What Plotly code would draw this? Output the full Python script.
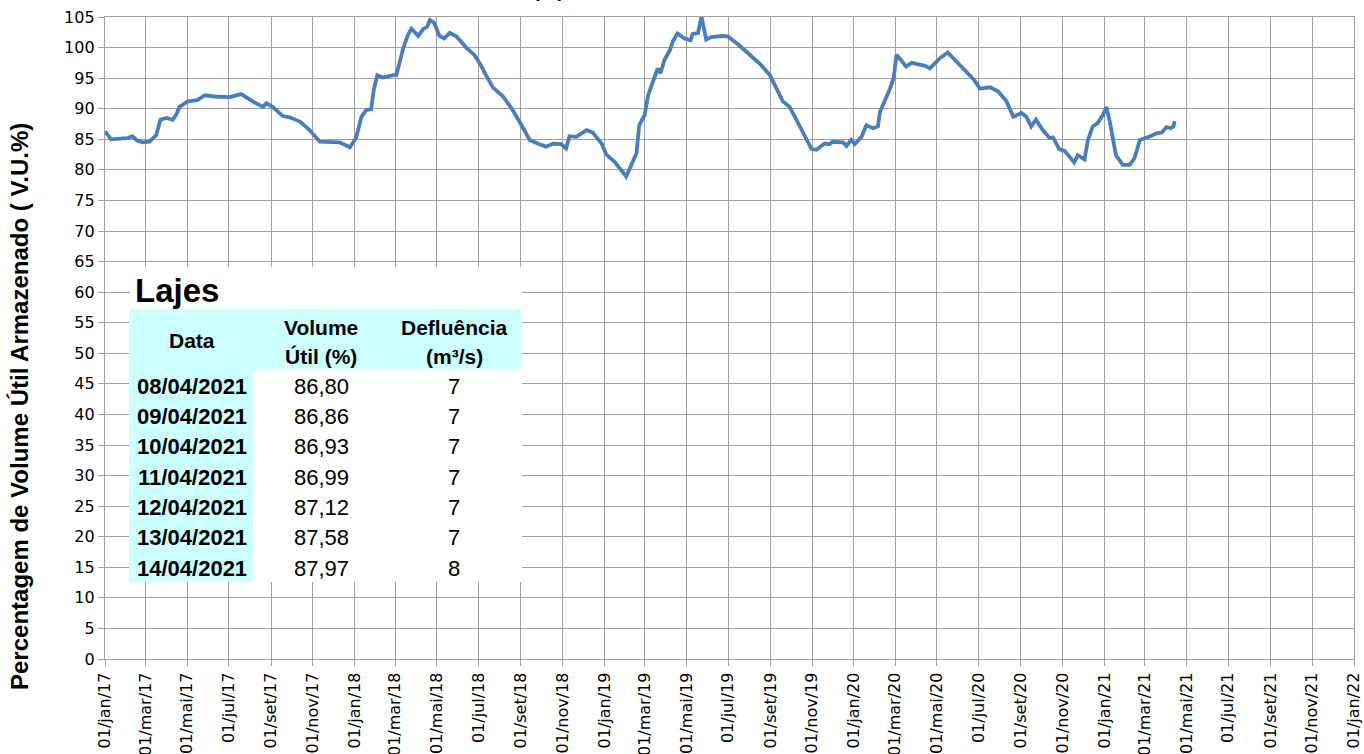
import plotly.graph_objects as go

# ---------------- data ----------------
dates = [
    "2017-01-01", "2017-01-10", "2017-01-23", "2017-02-03", "2017-02-10", "2017-02-17", "2017-02-25",
    "2017-03-07", "2017-03-17", "2017-03-23", "2017-04-01", "2017-04-10", "2017-04-15", "2017-04-20",
    "2017-05-02", "2017-05-16", "2017-05-27", "2017-06-10", "2017-07-02", "2017-07-19", "2017-08-05",
    "2017-08-20", "2017-08-25", "2017-09-03", "2017-09-18", "2017-09-28", "2017-10-13", "2017-10-27",
    "2017-11-11", "2017-11-25", "2017-12-10", "2017-12-25",
    "2018-01-03", "2018-01-11", "2018-01-18", "2018-01-25", "2018-01-29", "2018-02-03", "2018-02-11",
    "2018-02-26", "2018-03-03", "2018-03-08", "2018-03-13", "2018-03-20", "2018-03-25", "2018-04-04",
    "2018-04-11", "2018-04-17", "2018-04-21", "2018-04-27", "2018-05-05", "2018-05-12", "2018-05-20",
    "2018-05-30", "2018-06-13", "2018-06-25", "2018-07-03", "2018-07-12", "2018-07-22", "2018-08-06",
    "2018-08-20", "2018-09-02", "2018-09-14", "2018-09-28", "2018-10-08", "2018-10-18", "2018-10-30",
    "2018-11-06", "2018-11-11", "2018-11-21", "2018-12-06", "2018-12-15", "2018-12-28",
    "2019-01-04", "2019-01-16", "2019-02-02", "2019-02-09", "2019-02-17", "2019-02-21", "2019-03-01",
    "2019-03-06", "2019-03-13", "2019-03-20", "2019-03-24", "2019-03-30", "2019-04-07", "2019-04-11",
    "2019-04-18", "2019-04-28", "2019-05-07", "2019-05-10", "2019-05-18", "2019-05-23", "2019-05-30",
    "2019-06-06", "2019-06-23", "2019-07-01", "2019-07-18", "2019-08-01", "2019-08-16", "2019-08-31",
    "2019-09-09", "2019-09-19", "2019-09-29", "2019-10-09", "2019-10-23", "2019-10-31", "2019-11-07",
    "2019-11-19", "2019-11-26", "2019-12-01", "2019-12-16", "2019-12-21", "2019-12-28",
    "2020-01-02", "2020-01-12", "2020-01-19", "2020-01-29", "2020-02-05", "2020-02-08", "2020-02-15",
    "2020-02-22", "2020-02-28", "2020-03-03", "2020-03-08", "2020-03-17", "2020-03-25", "2020-04-04",
    "2020-04-14", "2020-04-21", "2020-04-28", "2020-05-05", "2020-05-17", "2020-05-30", "2020-06-14",
    "2020-06-24", "2020-07-03", "2020-07-18", "2020-07-30", "2020-08-11", "2020-08-21", "2020-09-02",
    "2020-09-09", "2020-09-16", "2020-09-23", "2020-10-03", "2020-10-13", "2020-10-18", "2020-10-27",
    "2020-11-04", "2020-11-18", "2020-11-23", "2020-12-03", "2020-12-08", "2020-12-15", "2020-12-22",
    "2020-12-30",
    "2021-01-04", "2021-01-09", "2021-01-13", "2021-01-18", "2021-01-28", "2021-02-07", "2021-02-14",
    "2021-02-22", "2021-03-09", "2021-03-19", "2021-03-26", "2021-04-02",
    "2021-04-08", "2021-04-09", "2021-04-10", "2021-04-11", "2021-04-12", "2021-04-13", "2021-04-14",
]
volume = [
    86.3, 85.0, 85.1, 85.2, 85.5, 84.8, 84.5,
    84.6, 85.7, 88.2, 88.5, 88.2, 89.0, 90.3,
    91.2, 91.4, 92.2, 92.0, 91.9, 92.4, 91.2,
    90.3, 90.9, 90.3, 88.8, 88.6, 87.9, 86.5,
    84.6, 84.5, 84.5, 83.7,
    85.2, 88.7, 89.8, 89.9, 93.1, 95.5, 95.1,
    95.5, 95.5, 97.7, 99.9, 102.1, 103.1, 101.9,
    103.0, 103.4, 104.5, 104.1, 101.9, 101.5, 102.4,
    101.8, 100.0, 98.8, 97.4, 95.5, 93.5, 92.0,
    89.8, 87.3, 84.9, 84.2, 83.8, 84.3, 84.2,
    83.5, 85.5, 85.4, 86.5, 86.1, 84.3,
    82.5, 81.3, 78.9, 80.7, 82.7, 87.3, 89.0,
    92.2, 94.2, 96.6, 95.8, 98.0, 99.6, 101.0,
    102.3, 101.5, 101.2, 102.2, 102.4, 105.1, 101.3,
    101.7, 101.9, 101.8, 100.3, 98.8, 97.4, 95.5,
    93.3, 91.2, 90.3, 88.2, 85.2, 83.4, 83.3,
    84.3, 84.2, 84.6, 84.5, 83.9, 84.9,
    84.2, 85.4, 87.3, 86.8, 87.1, 89.5, 91.2,
    93.1, 95.0, 98.8, 98.2, 96.9, 97.5, 97.3,
    97.0, 96.6, 97.4, 98.2, 99.2, 97.7, 96.1,
    94.8, 93.3, 93.5, 92.8, 91.2, 88.7, 89.3,
    88.7, 87.1, 88.2, 86.5, 85.2, 85.3, 83.4,
    83.1, 81.2, 82.4, 81.7, 84.9, 87.1, 87.6,
    89.0,
    90.3, 87.9, 85.4, 82.4, 80.8, 80.8, 81.9,
    84.9, 85.5, 86.0, 86.1, 87.0,
    86.80, 86.86, 86.93, 86.99, 87.12, 87.58, 87.97,
]

# table content
table_title = "Lajes"
table_dates = ["08/04/2021", "09/04/2021", "10/04/2021", "11/04/2021",
               "12/04/2021", "13/04/2021", "14/04/2021"]
table_volume = ["86,80", "86,86", "86,93", "86,99", "87,12", "87,58", "87,97"]
table_defluencia = ["7", "7", "7", "7", "7", "7", "8"]

# axis ticks
tick_years = [2017, 2018, 2019, 2020, 2021]
tick_months = [(1, "jan"), (3, "mar"), (5, "mai"), (7, "jul"), (9, "set"), (11, "nov")]
tick_vals, tick_text = [], []
for yr in tick_years:
    for m, name in tick_months:
        tick_vals.append(f"{yr}-{m:02d}-01")
        tick_text.append(f"01/{name}/{yr % 100:02d}")
tick_vals.append("2022-01-01")
tick_text.append("01/jan/22")

y_title = "Percentagem de Volume Útil Armazenado ( V.U.%)"

# ---------------- layout helpers ----------------
W, H = 1364, 754
PAGE_L, PAGE_R, PAGE_T, PAGE_B = 105, 1354, 17, 659
ML, MT, MR, MB = PAGE_L, PAGE_T, W - PAGE_R, H - PAGE_B
PW, PH = PAGE_R - PAGE_L, PAGE_B - PAGE_T


def px(xp):
    return (xp - PAGE_L) / PW


def py(yp):
    return (PAGE_B - yp) / PH


GRID = "#9F9F9F"
LINE_COLOR = "#4A7EBB"
CYAN = "#CCFFFF"
ARIAL = "Liberation Sans, Arial, sans-serif"

fig = go.Figure()
fig.add_trace(go.Scatter(
    x=dates, y=volume, mode="lines",
    line=dict(color=LINE_COLOR, width=3.8),
    hoverinfo="skip", showlegend=False,
))

fig.update_layout(
    width=W, height=H,
    margin=dict(l=ML, r=MR, t=MT, b=MB, pad=0),
    paper_bgcolor="white", plot_bgcolor="white",
    font=dict(family="DejaVu Sans", color="black"),
    showlegend=False,
)
fig.update_xaxes(
    type="date", range=["2017-01-01", "2022-01-01"],
    tickmode="array", tickvals=tick_vals, ticktext=tick_text, tickangle=-90,
    tickfont=dict(family="DejaVu Sans", size=16, color="black"),
    showgrid=True, gridcolor=GRID, gridwidth=1.3,
    showline=True, linecolor=GRID, linewidth=1.3, mirror=True,
    ticks="outside", ticklen=6, tickcolor=GRID, tickwidth=1.3,
    zeroline=False, automargin=False,
)
fig.update_yaxes(
    range=[0, 105], tick0=0, dtick=5,
    tickfont=dict(family="DejaVu Sans", size=16, color="black"),
    showgrid=True, gridcolor=GRID, gridwidth=1.3,
    showline=True, linecolor=GRID, linewidth=1.3, mirror=True,
    ticks="outside", ticklen=6, tickcolor=GRID, tickwidth=1.3,
    zeroline=False, automargin=False,
)

shapes = [
    dict(type="rect", xref="paper", yref="paper", x0=px(130), x1=px(522), y0=py(582), y1=py(267),
         fillcolor="white", line=dict(width=0), layer="above"),
    dict(type="rect", xref="paper", yref="paper", x0=px(129), x1=px(521), y0=py(369), y1=py(309),
         fillcolor=CYAN, line=dict(width=0), layer="above"),
    dict(type="rect", xref="paper", yref="paper", x0=px(129), x1=px(253), y0=py(582), y1=py(369),
         fillcolor=CYAN, line=dict(width=0), layer="above"),
]
fig.update_layout(shapes=shapes)

ann = []
# partially visible chart title at the very top
ann.append(dict(text="<b>Volume Útil (%)</b>", xref="paper", yref="paper",
                x=px(566), y=py(3), xanchor="right", yanchor="bottom",
                showarrow=False, font=dict(family=ARIAL, size=20, color="black")))
# y axis title
ann.append(dict(text=f"<b>{y_title}</b>", xref="paper", yref="paper",
                x=px(19), y=py(407), xanchor="center", yanchor="middle", textangle=-90,
                showarrow=False, font=dict(family=ARIAL, size=24, color="black")))
# table title
ann.append(dict(text=f"<b>{table_title}</b>", xref="paper", yref="paper",
                x=px(133), y=py(290), xanchor="left", yanchor="middle",
                showarrow=False, font=dict(family=ARIAL, size=33, color="black")))
# headers
hdr_font = dict(family=ARIAL, size=21, color="black")
for text, xc, yc in [("Data", 192, 340), ("Volume", 321, 327), ("Útil (%)", 321, 356),
                     ("Defluência", 454, 327), ("(m³/s)", 454, 356)]:
    ann.append(dict(text=f"<b>{text}</b>", xref="paper", yref="paper", x=px(xc), y=py(yc),
                    xanchor="center", yanchor="middle", showarrow=False, font=hdr_font))
# rows
row_y = [386, 416, 446, 477, 507, 537, 568]
for d, v, q, yc in zip(table_dates, table_volume, table_defluencia, row_y):
    ann.append(dict(text=f"<b>{d}</b>", xref="paper", yref="paper", x=px(192), y=py(yc),
                    xanchor="center", yanchor="middle", showarrow=False,
                    font=dict(family=ARIAL, size=22, color="black")))
    ann.append(dict(text=v, xref="paper", yref="paper", x=px(321), y=py(yc),
                    xanchor="center", yanchor="middle", showarrow=False,
                    font=dict(family=ARIAL, size=22, color="black")))
    ann.append(dict(text=q, xref="paper", yref="paper", x=px(454), y=py(yc),
                    xanchor="center", yanchor="middle", showarrow=False,
                    font=dict(family=ARIAL, size=22, color="black")))
fig.update_layout(annotations=ann)

# remove the browser's default 8px body margin so the figure sits at the page origin
fig.write_html(
    "out.html",
    config={"displayModeBar": False},
    post_script="document.body.style.margin='0';document.body.style.overflow='hidden';",
)
